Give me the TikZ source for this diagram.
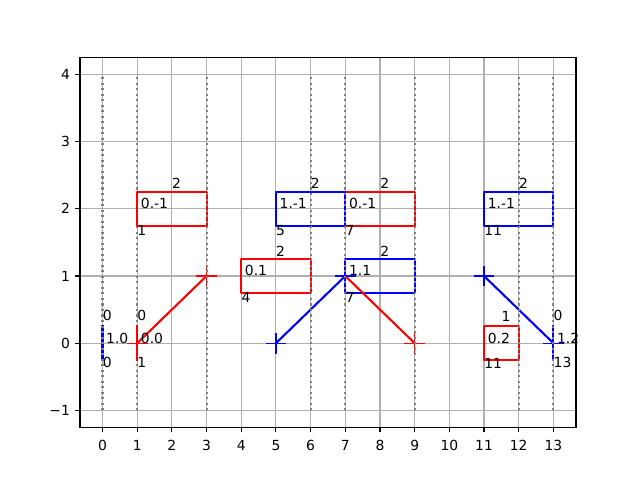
\documentclass[tikz,border=0pt]{standalone}
\usepackage{fontspec}
\setmainfont{DejaVu Sans}
\definecolor{gridgray}{RGB}{176,176,176}
\definecolor{dotgray}{RGB}{128,128,128}
\definecolor{mplred}{RGB}{255,0,0}
\definecolor{mplblue}{RGB}{0,0,255}
\begin{document}
\begin{tikzpicture}[
  gridline/.style={draw=gridgray, line width=0.8bp, line cap=rect},
  guide/.style={draw=dotgray, line width=1.5bp, dash pattern=on 1.5bp off 2.475bp},
  trace/.style={line width=1.5bp, line cap=rect, line join=round},
  box/.style={line width=1.5bp, line join=round},
  plusline/.style={line width=1bp},
  lbl/.style={anchor=base west, inner sep=0pt, font=\fontsize{10bp}{12bp}\selectfont},
  ticklbl/.style={inner sep=0pt, font=\fontsize{10bp}{12bp}\selectfont},
]
\useasboundingbox (0,0) rectangle (460.8bp,345.6bp);
\begin{scope}[shift={(73.8bp,98.496bp)}, x=24.973bp, y=48.384bp]
% grid
\foreach \i in {0,...,13} \draw[gridline] (\i,-1.25) -- (\i,4.25);
\foreach \j in {-1,...,4} \draw[gridline] (-0.65,\j) -- (13.65,\j);
% guide under
\draw[guide] (1,-1) -- (1,4);
% boxes
\draw[box, mplred] (1,1.75) rectangle (3,2.25);
\draw[box, mplred] (4,0.75) rectangle (6,1.25);
\draw[box, mplred] (7,1.75) rectangle (9,2.25);
\draw[box, mplblue] (5,1.75) rectangle (7,2.25);
\draw[box, mplblue] (7,0.75) rectangle (9,1.25);
\draw[box, mplblue] (11,1.75) rectangle (13,2.25);
\draw[box, mplred] (11,-0.25) rectangle (12,0.25);
% points
\coordinate (a0) at (0,0);
\coordinate (a1) at (1,0);
\coordinate (b1) at (3,1);
\coordinate (c0) at (5,0);
\coordinate (c1) at (7,1);
\coordinate (d1) at (9,0);
\coordinate (e0) at (11,1);
\coordinate (e1) at (13,0);
% short vertical segments
\draw[trace, mplblue] ([yshift=-12.096bp]a0) -- ([yshift=12.096bp]a0);
\draw[trace, mplred] ([yshift=-12.096bp]a1) -- ([yshift=12.096bp]a1);
\draw[trace, mplblue] ([yshift=-12.096bp]e1) -- ([yshift=12.096bp]e1);
% traces
\draw[trace, mplred] (a1) -- (b1);
\foreach \p in {a1,b1}
  \draw[plusline, mplred] ([xshift=-7.5bp]\p) -- ([xshift=7.5bp]\p) ([yshift=-7.5bp]\p) -- ([yshift=7.5bp]\p);
\draw[trace, mplred] (c1) -- (d1);
\foreach \p in {c1,d1}
  \draw[plusline, mplred] ([xshift=-7.5bp]\p) -- ([xshift=7.5bp]\p) ([yshift=-7.5bp]\p) -- ([yshift=7.5bp]\p);
\draw[trace, mplblue] (c0) -- (c1);
\foreach \p in {c0,c1}
  \draw[plusline, mplblue] ([xshift=-7.5bp]\p) -- ([xshift=7.5bp]\p) ([yshift=-7.5bp]\p) -- ([yshift=7.5bp]\p);
\draw[trace, mplblue] (e0) -- (e1);
\foreach \p in {e0,e1}
  \draw[plusline, mplblue] ([xshift=-7.5bp]\p) -- ([xshift=7.5bp]\p) ([yshift=-7.5bp]\p) -- ([yshift=7.5bp]\p);
% guides over
\foreach \g in {0,3,6,7,9,12,13} \draw[guide] (\g,-1) -- (\g,4);
% labels
\node[lbl] (t01) at (0,0.34) {0};
\node[lbl] (t02) at (0.1,0) {1.0};
\node[lbl] (t03) at (0,-0.355) {0};
\node[lbl] (t11) at (1,0.34) {0};
\node[lbl] (t12) at (1.1,0) {0.0};
\node[lbl] (t13) at (1,-0.355) {1};
\node[lbl] (t21) at (13,0.34) {0};
\node[lbl] (t22) at (13.1,0) {1.2};
\node[lbl] (t23) at (13,-0.355) {13};
\node[lbl] (r11) at (2,2.295) {2};
\node[lbl] (r12) at (1.1,2) {0.-1};
\node[lbl] (r13) at (1,1.61) {1};
\node[lbl] (r21) at (5,1.295) {2};
\node[lbl] (r22) at (4.1,1) {0.1};
\node[lbl] (r23) at (4,0.61) {4};
\node[lbl] (r31) at (6,2.295) {2};
\node[lbl] (r32) at (5.1,2) {1.-1};
\node[lbl] (r33) at (5,1.61) {5};
\node[lbl] (r41) at (8,2.295) {2};
\node[lbl] (r42) at (7.1,2) {0.-1};
\node[lbl] (r43) at (7,1.61) {7};
\node[lbl] (r51) at (8,1.295) {2};
\node[lbl] (r52) at (7.1,1) {1.1};
\node[lbl] (r53) at (7,0.61) {7};
\node[lbl] (r61) at (12,2.295) {2};
\node[lbl] (r62) at (11.1,2) {1.-1};
\node[lbl] (r63) at (11,1.61) {11};
\node[lbl] (r71) at (11.5,0.32) {1};
\node[lbl] (r72) at (11.1,0) {0.2};
\node[lbl] (r73) at (11,-0.37) {11};
% frame
\draw[line width=0.8bp, line join=miter] (-0.65,-1.25) rectangle (13.65,4.25);
\foreach \i in {0,...,13} {
  \draw[line width=0.8bp] (\i,-1.25) -- ++(0bp,-3.5bp);
  \node[ticklbl, anchor=north] (xt\i) at ([yshift=-9.2bp]\i,-1.25) {\i};
}
\foreach \j/\t in {-1/−1,0/0,1/1,2/2,3/3,4/4} {
  \draw[line width=0.8bp] (-0.65,\j) -- ++(-3.5bp,0bp);
  \node[ticklbl, anchor=east] (yt\j) at ([xshift=-7bp]-0.65,\j) {\t};
}
\end{scope}
\end{tikzpicture}
\end{document}
